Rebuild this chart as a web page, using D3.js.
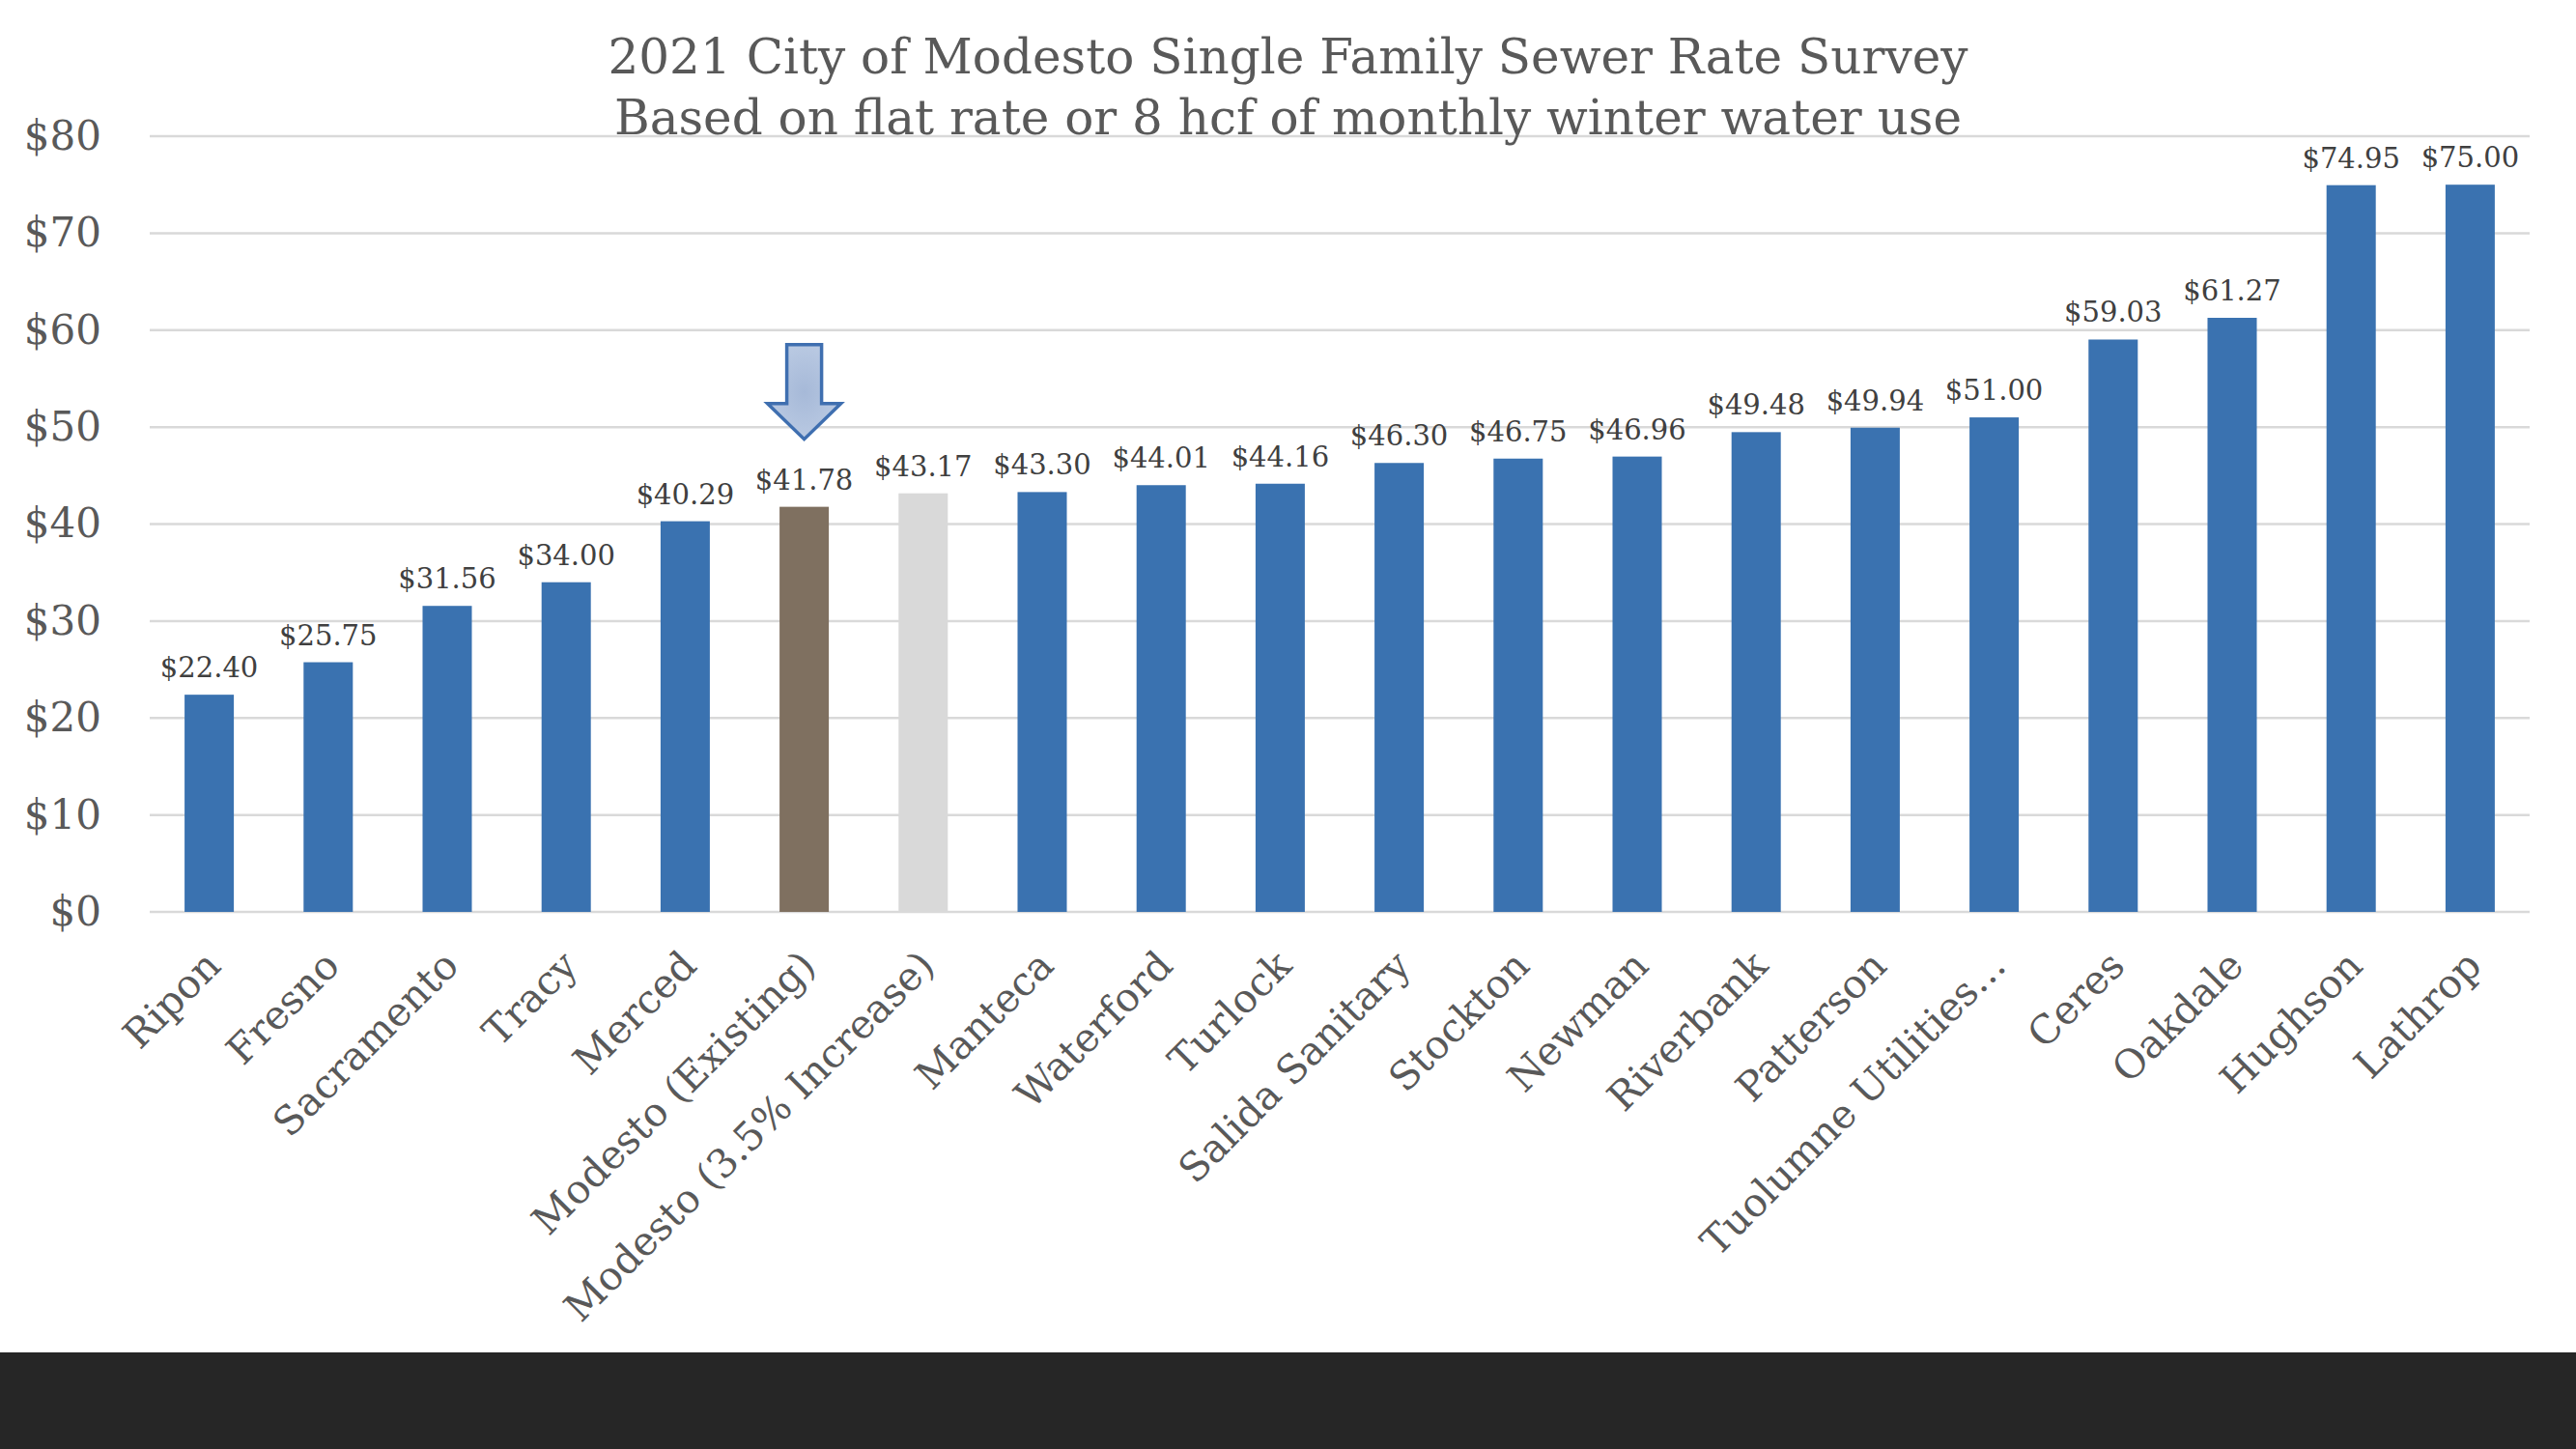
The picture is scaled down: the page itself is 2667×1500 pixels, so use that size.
<!DOCTYPE html>
<html>
<head>
<meta charset="utf-8">
<script src="https://cdn.jsdelivr.net/npm/d3@7"></script>
<style>
  body { margin: 0; background: #fff; }
  svg { display: block; }
</style>
</head>
<body>
<div id="chart"></div>
<script>
// chart data
let cities = ['Ripon', 'Fresno', 'Sacramento', 'Tracy', 'Merced', 'Modesto (Existing)',
    'Modesto (3.5% Increase)', 'Manteca', 'Waterford', 'Turlock', 'Salida Sanitary',
    'Stockton', 'Newman', 'Riverbank', 'Patterson', 'Tuolumne Utilities...', 'Ceres',
    'Oakdale', 'Hughson', 'Lathrop'];
let rates = [22.40, 25.75, 31.56, 34.00, 40.29, 41.78, 43.17, 43.30, 44.01, 44.16,
    46.30, 46.75, 46.96, 49.48, 49.94, 51.00, 59.03, 61.27, 74.95, 75.00];
let yTicks = [0, 10, 20, 30, 40, 50, 60, 70, 80];
let titleLines = ['2021 City of Modesto Single Family Sewer Rate Survey',
    'Based on flat rate or 8 hcf of monthly winter water use'];
let highlight = 'Modesto (Existing)';

// svg dimensions
let svgWidth = 2667,
    svgHeight = 1500;

let margin = { top: 141, right: 48, bottom: 556, left: 155 };
let chartWidth = svgWidth - margin.left - margin.right;
let chartHeight = svgHeight - margin.top - margin.bottom;

let svg = d3.select('#chart')
    .append('svg')
    .attr('width', svgWidth)
    .attr('height', svgHeight);

// arrow gradient
let grad = svg.append('defs').append('radialGradient')
    .attr('id', 'arrowFill');
grad.append('stop').attr('offset', '0%').attr('stop-color', '#a6b9d8');
grad.append('stop').attr('offset', '100%').attr('stop-color', '#b9c9e2');

let chartGroup = svg.append('g')
    .attr('transform', `translate(${margin.left}, ${margin.top})`);

// scales
let xScale = d3.scaleBand()
    .domain(cities)
    .range([0, chartWidth])
    .paddingInner(0.586)
    .paddingOuter(0.293);

let yScale = d3.scaleLinear()
    .domain([0, 80])
    .range([chartHeight, 0]);

// gridlines
chartGroup.append('g')
    .selectAll('line')
    .data(yTicks)
    .join('line')
    .attr('x1', 0)
    .attr('x2', chartWidth)
    .attr('y1', d => yScale(d))
    .attr('y2', d => yScale(d))
    .attr('stroke', '#d9d9d9')
    .attr('stroke-width', 2.5);

// left axis labels
let leftAxis = d3.axisLeft(yScale)
    .tickValues(yTicks)
    .tickSize(0)
    .tickPadding(50)
    .tickFormat(d => '$' + d);

chartGroup.append('g')
    .call(leftAxis)
    .call(g => g.select('.domain').remove())
    .selectAll('text')
    .attr('font-family', 'DejaVu Serif')
    .attr('font-size', 42)
    .attr('fill', '#595959');

// bars
let barColor = d => d === highlight ? '#7f7060'
    : d === 'Modesto (3.5% Increase)' ? '#d9d9d9' : '#3a72b0';

chartGroup.append('g')
    .selectAll('rect')
    .data(cities)
    .join('rect')
    .attr('x', d => xScale(d))
    .attr('y', (d, i) => yScale(rates[i]))
    .attr('width', xScale.bandwidth())
    .attr('height', (d, i) => chartHeight - yScale(rates[i]))
    .attr('fill', barColor);

// value labels
chartGroup.append('g')
    .selectAll('text')
    .data(cities)
    .join('text')
    .attr('x', d => xScale(d) + xScale.bandwidth() / 2)
    .attr('y', (d, i) => yScale(rates[i]) - 18)
    .attr('text-anchor', 'middle')
    .attr('font-family', 'DejaVu Serif')
    .attr('font-size', 29)
    .attr('fill', '#404040')
    .text((d, i) => '$' + rates[i].toFixed(2));

// category labels, rotated
chartGroup.append('g')
    .selectAll('text')
    .data(cities)
    .join('text')
    .attr('transform', d => `translate(${xScale(d) + xScale.bandwidth() / 2 + 14}, ${chartHeight + 58}) rotate(-45)`)
    .attr('text-anchor', 'end')
    .attr('font-family', 'DejaVu Serif')
    .attr('font-size', 41)
    .attr('fill', '#595959')
    .text(d => d);

// arrow pointing at the existing Modesto rate
let hi = cities.indexOf(highlight);
let ax = xScale(highlight) + xScale.bandwidth() / 2;
let tipY = yScale(rates[hi]) - 70;
let arrow = [
    [-18, -98], [18, -98], [18, -37], [38, -37],
    [0, 0], [-38, -37], [-18, -37]
];
chartGroup.append('path')
    .attr('d', d3.line()(arrow.map(p => [ax + p[0], tipY + p[1]])) + 'Z')
    .attr('fill', 'url(#arrowFill)')
    .attr('stroke', '#3f6fb0')
    .attr('stroke-width', 3.5)
    .attr('stroke-linejoin', 'miter');

// title
svg.append('g')
    .selectAll('text')
    .data(titleLines)
    .join('text')
    .attr('x', svgWidth / 2)
    .attr('y', (d, i) => 76 + i * 63)
    .attr('text-anchor', 'middle')
    .attr('font-family', 'DejaVu Serif')
    .attr('font-size', 50)
    .attr('fill', '#595959')
    .text(d => d);

// dark footer band
svg.append('rect')
    .attr('x', 0)
    .attr('y', 1400)
    .attr('width', svgWidth)
    .attr('height', 100)
    .attr('fill', '#262626');
</script>
</body>
</html>
